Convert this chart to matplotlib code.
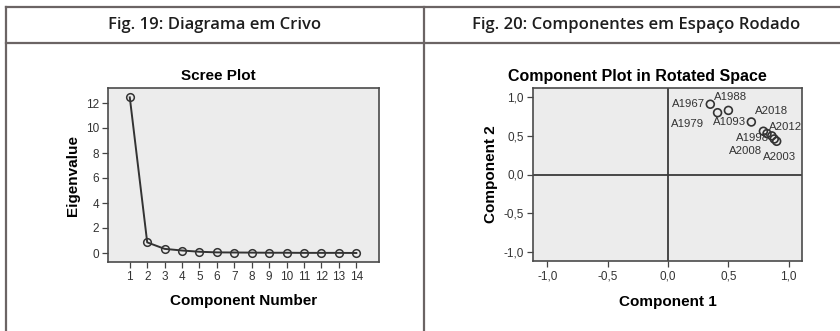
import matplotlib.pyplot as plt
from matplotlib.lines import Line2D

plt.rcParams['font.family'] = ['Liberation Sans', 'DejaVu Sans']

# scree plot data
components = list(range(1, 15))
eigenvalues = [12.45, 0.85, 0.33, 0.2, 0.1, 0.05, 0.04, 0.03, 0.02, 0.02, 0.01, 0.01, 0.01, 0.0]

# rotated component loadings
var_names = ['A1967', 'A1979', 'A1988', 'A1093', 'A2018', 'A1998', 'A2012', 'A2008', 'A2003']
comp1 = [0.35, 0.41, 0.50, 0.69, 0.79, 0.82, 0.86, 0.88, 0.90]
comp2 = [0.91, 0.80, 0.83, 0.68, 0.56, 0.53, 0.50, 0.46, 0.43]

# label placement (offset in pixels, horizontal alignment)
label_offsets = [(-5, 0, 'right'), (-13, -11, 'right'), (2, 13, 'center'), (-5, 0, 'right'),
                 (8, 20, 'center'), (2, -4, 'right'), (-3, 9, 'left'), (-12, -12, 'right'),
                 (-14, -16, 'left')]

W, H = 840, 331
fig = plt.figure(figsize=(W / 100, H / 100), dpi=100)

# table frame
ink = '#6b6464'
for y in (7, 43):
    fig.add_artist(Line2D([6 / W, 1], [1 - y / H, 1 - y / H], color=ink, lw=1.6))
for x in (6, 424):
    fig.add_artist(Line2D([x / W, x / W], [0, 1 - 7 / H], color=ink, lw=1.6))
fig.text(215 / W, 1 - 25 / H, 'Fig. 19: Diagrama em Crivo', ha='center', va='center',
         fontsize=12, family='Open Sans', fontweight='semibold', color='#1e1e1e')
fig.text(636 / W, 1 - 25 / H, 'Fig. 20: Componentes em Espaço Rodado', ha='center', va='center',
         fontsize=12, family='Open Sans', fontweight='semibold', color='#1e1e1e')

bg = '#ececec'
dark = '#333333'


def style(ax):
    ax.set_facecolor(bg)
    for s in ax.spines.values():
        s.set_color('#4a4a4a')
        s.set_linewidth(1.2)
    ax.tick_params(length=4, width=0.9, color='#444444', labelsize=8.5, labelcolor='#333333', pad=2.5)


# ---- scree plot
ax1 = fig.add_axes([108 / W, 1 - 262 / H, (379 - 108) / W, (262 - 88) / H])
style(ax1)
ax1.plot(components, eigenvalues, color=dark, lw=1.4, marker='o', ms=5.5,
         mfc='none', mec=dark, mew=1.1)
ax1.set_xlim(-0.25, 15.3)
ax1.set_ylim(-0.72, 13.2)
ax1.set_xticks(components)
ax1.set_yticks([0, 2, 4, 6, 8, 10, 12])
ax1.set_xlabel('Component Number', fontsize=11, fontweight='bold', labelpad=8)
ax1.set_ylabel('Eigenvalue', fontsize=11, fontweight='bold', labelpad=4)
fig.text(218 / W, 1 - 76 / H, 'Scree Plot', ha='center', va='center',
         fontsize=11, fontweight='bold')

# ---- component plot
ax2 = fig.add_axes([533 / W, 1 - 261 / H, (802 - 533) / W, (261 - 88) / H])
style(ax2)
ax2.axhline(0, color='#3a3a3a', lw=1.3)
ax2.axvline(0, color='#3a3a3a', lw=1.3)
ax2.scatter(comp1, comp2, s=32, facecolors='none', edgecolors=dark, linewidths=1.2, zorder=3)
for name, x, y, (dx, dy, ha) in zip(var_names, comp1, comp2, label_offsets):
    ax2.annotate(name, (x, y), xytext=(dx, dy), textcoords='offset pixels',
                 ha=ha, va='center', fontsize=8.2, color='#333333')
ax2.set_xlim(-1.12, 1.11)
ax2.set_ylim(-1.12, 1.12)
ticks = [-1.0, -0.5, 0.0, 0.5, 1.0]
ax2.set_xticks(ticks)
ax2.set_yticks(ticks)
tick_labels = [f'{t:.1f}'.replace('.', ',') for t in ticks]
ax2.set_xticklabels(tick_labels)
ax2.set_yticklabels(tick_labels)
ax2.set_xlabel('Component 1', fontsize=11, fontweight='bold', labelpad=9)
ax2.set_ylabel('Component 2', fontsize=11, fontweight='bold', labelpad=4)
fig.text(637 / W, 1 - 76 / H, 'Component Plot in Rotated Space', ha='center', va='center',
         fontsize=11.5, fontweight='bold')

fig.savefig('out.png', dpi=100)
